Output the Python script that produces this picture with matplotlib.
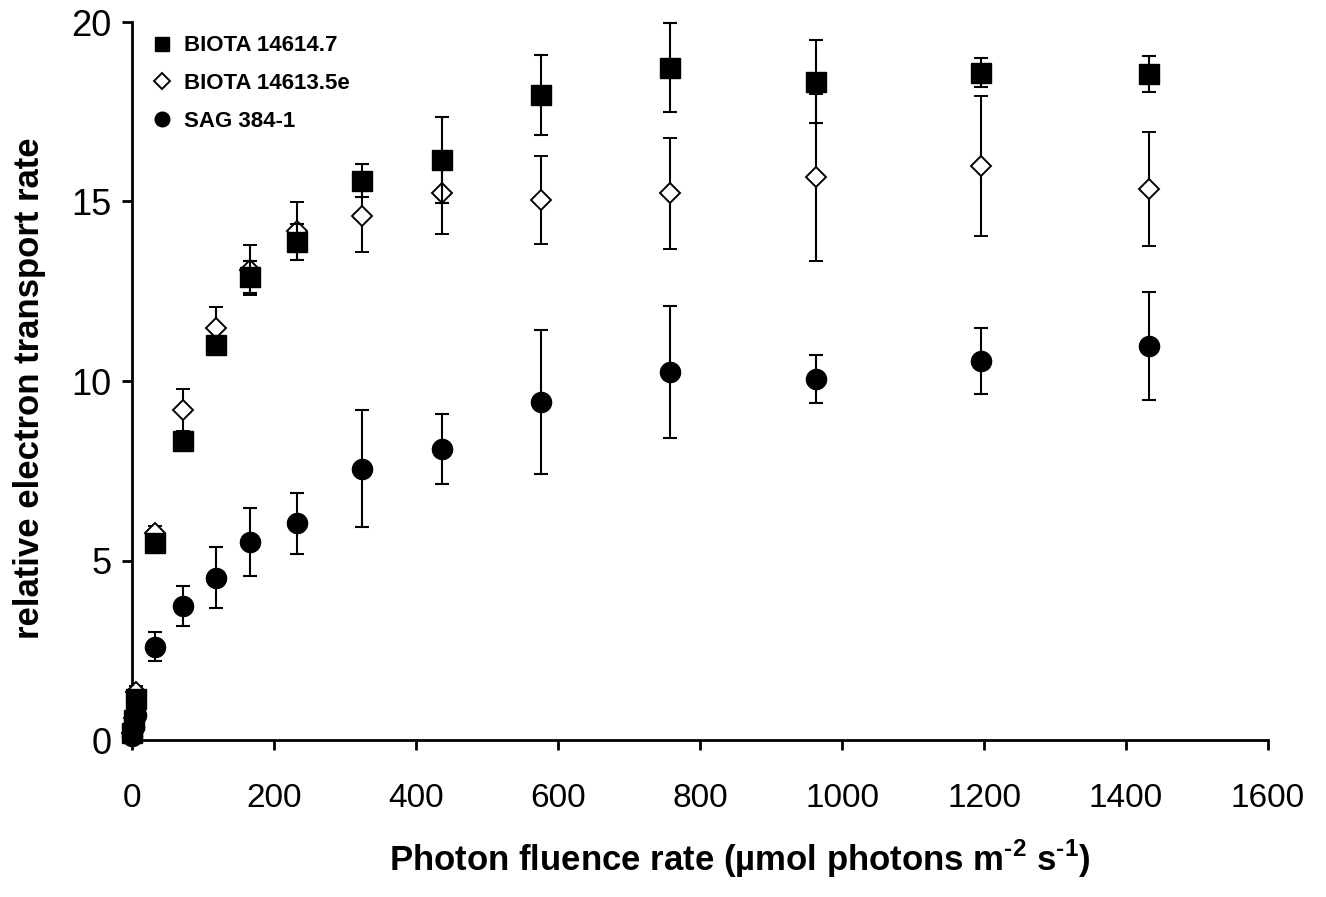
import matplotlib
matplotlib.use("Agg")
import matplotlib.pyplot as plt
from matplotlib.lines import Line2D

plt.rcParams['font.family'] = ['Liberation Sans', 'DejaVu Sans']

# Photon fluence rate (x) shared by all series
x = [0, 3, 5, 33, 72, 118, 166, 233, 324, 436, 576, 758, 964, 1196, 1432]

# BIOTA 14614.7 (filled squares)
sq_y = [0.2, 0.55, 1.15, 5.48, 8.34, 11.0, 12.9, 13.88, 15.58, 16.16, 17.97, 18.73, 18.34, 18.59, 18.54]
sq_e = [0.05, 0.1, 0.15, 0.15, 0.15, 0.2, 0.45, 0.5, 0.46, 1.2, 1.11, 1.25, 1.16, 0.4, 0.5]

# BIOTA 14613.5e (open diamonds)
di_y = [0.2, 0.6, 1.35, 5.77, 9.19, 11.49, 13.1, 14.18, 14.6, 15.25, 15.04, 15.23, 15.67, 15.99, 15.35]
di_e = [0.05, 0.1, 0.15, 0.2, 0.58, 0.58, 0.7, 0.8, 1.0, 1.16, 1.22, 1.55, 2.33, 1.94, 1.58]

# SAG 384-1 (filled circles)
ci_y = [0.1, 0.35, 0.7, 2.6, 3.74, 4.52, 5.52, 6.04, 7.55, 8.1, 9.42, 10.25, 10.06, 10.56, 10.98]
ci_e = [0.02, 0.05, 0.1, 0.4, 0.56, 0.85, 0.94, 0.85, 1.63, 0.97, 2.0, 1.83, 0.66, 0.91, 1.5]

labels = ['BIOTA 14614.7', 'BIOTA 14613.5e', 'SAG 384-1']

fig = plt.figure(figsize=(13.26, 8.97), dpi=100)
ax = fig.add_axes([132/1326, 1 - 740/897, 1136/1326, 718/897])

ekw = dict(ecolor='black', elinewidth=1.5, capsize=5, capthick=1.5, linestyle='none', clip_on=False)

ax.errorbar(x, di_y, yerr=di_e, marker='D', markersize=10, markerfacecolor='white',
            markeredgecolor='black', markeredgewidth=1.4, zorder=3, **ekw)
ax.errorbar(x, sq_y, yerr=sq_e, marker='s', markersize=14, markerfacecolor='black',
            markeredgecolor='black', zorder=4, **ekw)
ax.errorbar(x, ci_y, yerr=ci_e, marker='o', markersize=14.5, markerfacecolor='black',
            markeredgecolor='black', zorder=5, **ekw)

ax.set_xlim(0, 1600)
ax.set_ylim(0, 20)
ax.set_xticks(range(0, 1601, 200))
ax.set_yticks([0, 5, 10, 15, 20])
for s in ['top', 'right']:
    ax.spines[s].set_visible(False)
for s in ['left', 'bottom']:
    ax.spines[s].set_linewidth(2)
ax.tick_params(axis='both', direction='out', length=7, width=2, colors='black')
ax.tick_params(axis='x', pad=24, labelsize=24)
ax.tick_params(axis='y', pad=8, labelsize=26)

ax.set_ylabel('relative electron transport rate', fontsize=25, fontweight='bold')
ax.yaxis.set_label_coords(-0.076, 0.49)
ax.set_xlabel('Photon fluence rate (µmol photons m$^{\\mathregular{\u20102}}$ s$^{\\mathregular{\u20101}}$)',
              fontsize=25, fontweight='bold')
ax.xaxis.set_label_coords(0.535, -0.136)

handles = [
    Line2D([], [], linestyle='none', marker='s', markersize=10.5, color='black'),
    Line2D([], [], linestyle='none', marker='D', markersize=8.5, markerfacecolor='white',
           markeredgecolor='black', markeredgewidth=1.4),
    Line2D([], [], linestyle='none', marker='o', markersize=10.5, color='black'),
]
ax.legend(handles, labels, loc='upper left', bbox_to_anchor=(0.005, 1.0), frameon=False,
          prop={'size': 16, 'weight': 'bold'}, handletextpad=0.5, labelspacing=0.75,
          handlelength=1.0, borderaxespad=0.2)

fig.savefig('out.png', dpi=100)
